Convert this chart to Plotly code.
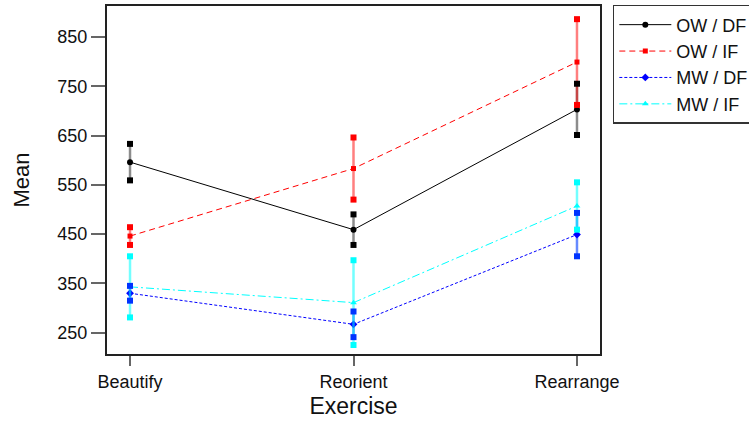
import numpy as np
import plotly.graph_objects as go

exercises = ["Beautify", "Reorient", "Rearrange"]
series_names = ["OW / DF", "OW / IF", "MW / DF", "MW / IF"]
ow_df_mean = [596, 459, 703]
ow_df_err = [37, 31, 52]
ow_if_mean = [446, 583, 799]
ow_if_err = [18, 63, 87]
mw_df_mean = [330, 267, 449]
mw_df_err = [15, 26, 44]
mw_if_mean = [343, 311, 507]
mw_if_err = [62, 86, 48]
y_ticks = [250, 350, 450, 550, 650, 750, 850]

means = [ow_df_mean, ow_if_mean, mw_df_mean, mw_if_mean]
errs = [ow_df_err, ow_if_err, mw_df_err, mw_if_err]
colors = ["#000000", "#ff0000", "#0000ff", "#00ffff"]
bar_colors = ["rgba(0,0,0,0.45)", "rgba(255,0,0,0.5)", "rgba(0,60,255,0.6)", "rgba(0,255,255,0.55)"]
cap_colors = ["#000000", "#ff0000", "#0033ff", "#00ffff"]
dashes = ["solid", "6px,4px", "3px,2px", "8px,3px,2px,3px"]
symbols = ["circle", "square", "diamond", "triangle-up"]
msizes = [6, 5, 6, 6]

x = np.arange(len(exercises))
fig = go.Figure()

for i in range(4):
    m = np.array(means[i], dtype=float)
    e = np.array(errs[i], dtype=float)
    fig.add_trace(go.Scatter(
        x=x, y=m, mode="lines+markers", name=series_names[i],
        line=dict(color=colors[i], width=1, dash=dashes[i]),
        marker=dict(color=colors[i], symbol=symbols[i], size=msizes[i]),
        error_y=dict(type="data", array=e, color=bar_colors[i], thickness=2.5, width=0),
        showlegend=True,
    ))
for i in range(4):
    m = np.array(means[i], dtype=float)
    e = np.array(errs[i], dtype=float)
    fig.add_trace(go.Scatter(
        x=np.concatenate([x, x]), y=np.concatenate([m - e, m + e]), mode="markers",
        marker=dict(color=cap_colors[i], symbol="square", size=6, line=dict(width=0)),
        showlegend=False, hoverinfo="skip",
    ))

fig.update_layout(
    width=749, height=423,
    margin=dict(l=107, r=149, t=6, b=69, autoexpand=False),
    paper_bgcolor="white", plot_bgcolor="white",
    font=dict(family="Liberation Sans, Arial, sans-serif", color="#111111"),
    showlegend=True,
    legend=dict(
        x=1.026, y=1.003, xanchor="left", yanchor="top",
        bgcolor="white", bordercolor="#333333", borderwidth=1.5,
        font=dict(size=18, color="#111111"), traceorder="normal",
        tracegroupgap=0, itemwidth=52,
    ),
)
fig.update_xaxes(
    range=[-0.103, 2.103], tickvals=x, ticktext=exercises,
    ticks="outside", ticklen=10, tickcolor="#666666", tickwidth=1.5,
    tickfont=dict(size=18), showgrid=False, zeroline=False,
    showline=True, linecolor="#222222", linewidth=2, mirror=True,
    title=dict(text="Exercise", font=dict(size=23), standoff=7),
)
fig.update_yaxes(
    range=[206.8, 912.7], tickvals=y_ticks,
    ticks="outside", ticklen=14, tickcolor="#666666", tickwidth=1.5,
    tickfont=dict(size=18), showgrid=False, zeroline=False,
    showline=True, linecolor="#222222", linewidth=2, mirror=True,
    title=dict(text="Mean", font=dict(size=22), standoff=22),
)

fig.write_html("out.html")
